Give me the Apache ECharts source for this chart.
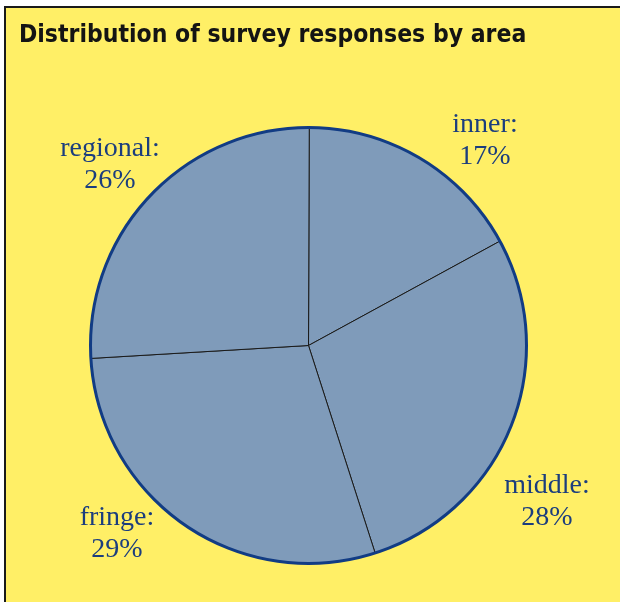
<!DOCTYPE html>
<html><head><meta charset="utf-8">
<script src="https://cdn.jsdelivr.net/npm/echarts@6/dist/echarts.min.js"></script>
<style>html,body{margin:0;padding:0;background:#fff}#c{width:620px;height:602px}</style>
</head><body><div id="c"></div>
<script>
const categories = ['inner', 'middle', 'fringe', 'regional'];
const values = [17, 28, 29, 26];
const labelSpots = [[485, 141], [547, 502], [117, 534], [110, 165]];

const chart = echarts.init(document.getElementById('c'), null, {renderer: 'canvas'});
chart.setOption({
  animation: false,
  backgroundColor: '#ffffff',
  graphic: [{
    type: 'rect', z: -10, silent: true,
    shape: {x: 5, y: 7, width: 640, height: 640},
    style: {fill: '#ffef66', stroke: '#1a1a1a', lineWidth: 2}
  }],
  title: {
    text: 'Distribution of survey responses by area',
    left: 14, top: 18,
    textStyle: {fontFamily: 'DejaVu Sans Condensed', fontWeight: 'bold', fontSize: 24.5, color: '#141414'}
  },
  series: [{
    type: 'pie',
    center: [308.5, 345.5],
    radius: 218,
    startAngle: 89.8,
    clockwise: true,
    data: categories.map((c, i) => ({name: c, value: values[i]})),
    itemStyle: {color: '#7f9bba', borderColor: '#1a1a1a', borderWidth: 1},
    label: {
      show: true,
      formatter: p => p.name + ':\n' + p.value + '%',
      fontFamily: 'Liberation Serif', fontSize: 28, lineHeight: 32,
      color: '#1b3d7e', align: 'center', overflow: 'none', width: 200
    },
    labelLine: {show: false},
    labelLayout: p => ({x: labelSpots[p.dataIndex][0], y: labelSpots[p.dataIndex][1], align: 'center', verticalAlign: 'middle'}),
    emphasis: {disabled: true}
  }, {
    type: 'pie',
    center: [308.5, 345.5],
    radius: 218,
    silent: true,
    data: [{name: 'outline', value: 1}],
    itemStyle: {color: 'rgba(0,0,0,0)', borderColor: '#123c84', borderWidth: 3},
    label: {show: false}, labelLine: {show: false},
    emphasis: {disabled: true}
  }]
});
</script></body></html>
